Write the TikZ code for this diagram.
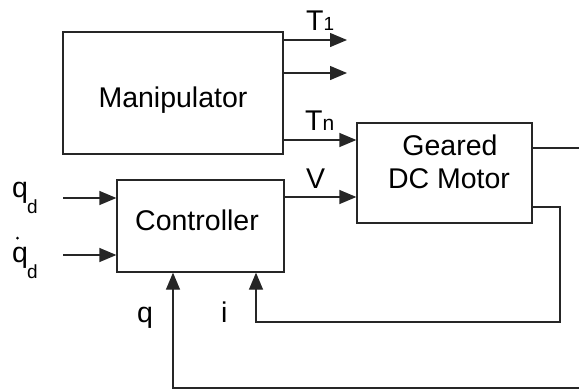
\documentclass[tikz,border=0pt]{standalone}
\usepackage{fontspec}
\setmainfont{Liberation Sans}
\usetikzlibrary{arrows.meta,calc}
\begin{document}
\begin{tikzpicture}[x=1pt,y=-1pt,
  blk/.style={draw=black!85,line width=1.3pt,fill=white,inner sep=0pt,minimum width=#1},
  ln/.style={draw=black!85,line width=1.3pt},
  arr/.style={ln,-{Triangle[length=17pt,width=14pt]}},
  txt/.style={inner sep=0pt,anchor=base,font=\fontsize{28.5}{32}\selectfont},
  txw/.style={txt,anchor=base west},
  sub/.style={inner sep=0pt,anchor=base west,font=\fontsize{19}{21}\selectfont}]
\useasboundingbox (0,0) rectangle (579,389);
% boxes
\node[blk=220pt,minimum height=122pt] (manip) at (173,93) {};
\node[blk=175pt,minimum height=100pt] (motor) at (444.5,173) {};
\node[blk=167pt,minimum height=92pt] (ctrl) at (200.5,226) {};
% texts in boxes
\node[txt] (tmanip) at (173,107) {Manipulator};
\node[txt] (tctrl) at (197,230) {Controller};
\node[txt] (tgear) at (450,155) {Geared};
\node[txt] (tdc) at (449,188) {DC Motor};
% coordinates
\coordinate (t1end) at (347,40);
\coordinate (t2end) at (347,73);
\coordinate (yTn) at (0,140);
\coordinate (yV) at (0,197);
\coordinate (qdin) at (63,198);
\coordinate (qddin) at (63,255);
\coordinate (outend) at (579,148);
\coordinate (iyr) at (560,207);
\coordinate (iyb) at (256,322);
\coordinate (qstart) at (579,388);
\coordinate (qx) at (173,388);
% manipulator outputs
\draw[arr] (manip.east |- t1end) -- (t1end);
\draw[arr] (manip.east |- t2end) -- (t2end);
\draw[arr] (manip.east |- yTn) -- (motor.west |- yTn);
% controller
\draw[arr] (ctrl.east |- yV) -- (motor.west |- yV);
\draw[arr] (qdin) -- (ctrl.west |- qdin);
\draw[arr] (qddin) -- (ctrl.west |- qddin);
% motor outputs
\draw[ln] (motor.east |- outend) -- (outend);
\draw[arr] (motor.east |- iyr) -- (iyr) |- (iyb) -- (ctrl.south -| iyb);
\draw[arr] (qstart) -- (qx) -- (ctrl.south -| qx);
% labels
\node[txw] (lT1) at (306,30) {T\fontsize{19}{21}\selectfont 1};
\node[txw] (lTn) at (305,130) {T\fontsize{21}{23}\selectfont n};
\node[txw] (lV) at (306,188) {V};
\node[txw] (lq) at (137,322) {q};
\node[txw] (li) at (221,322) {i};
\node[txw] (lqd) at (12,197) {q};
\node[sub] (lqdd) at (27,213) {d};
\node[circle,fill=black,inner sep=0pt,minimum size=3pt] (ldot) at (17.5,238) {};
\node[txw] (lqdot) at (12,262) {q};
\node[sub] (lqdotd) at (27,278) {d};
\end{tikzpicture}
\end{document}
